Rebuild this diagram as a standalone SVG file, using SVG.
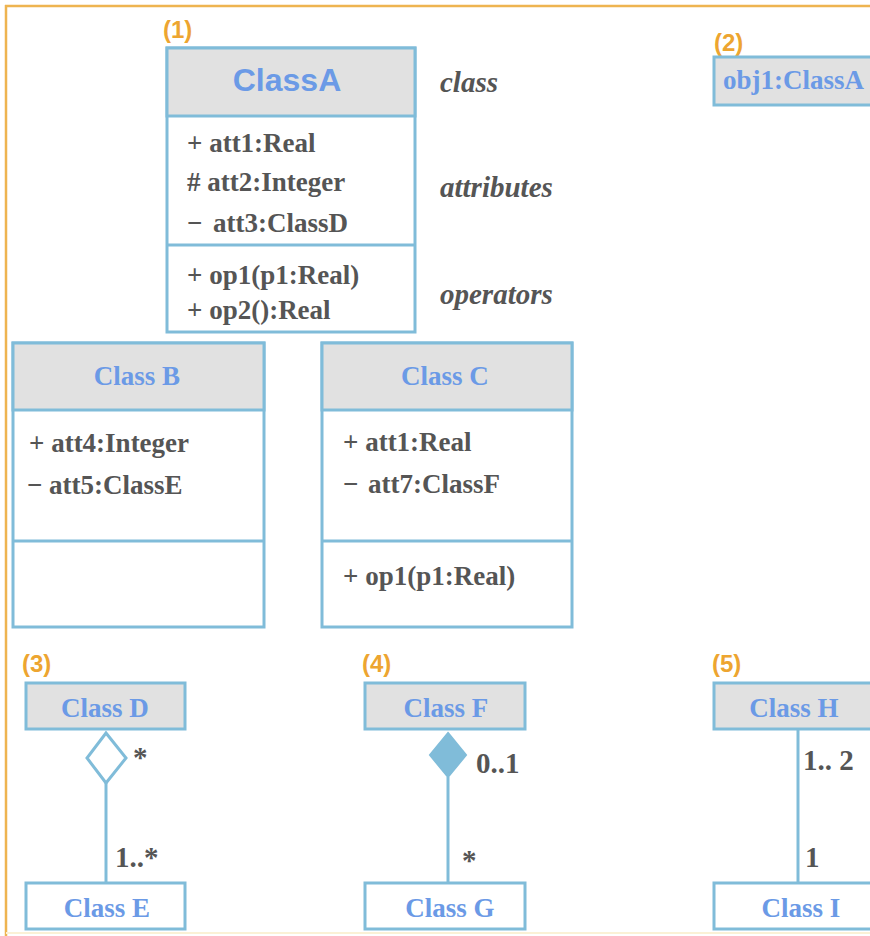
<svg xmlns="http://www.w3.org/2000/svg" width="870" height="936" viewBox="0 0 870 936">
<style>
.box{fill:#ffffff;stroke:#80bcd9;stroke-width:3}
.hdr{fill:#e1e1e1;stroke:#80bcd9;stroke-width:3}
.sep{stroke:#80bcd9;stroke-width:3}
.conn{stroke:#80bcd9;stroke-width:3;fill:none}
.title{font-family:"Liberation Sans",Arial,sans-serif;font-weight:bold;fill:#6b9ae6}
.name{font-family:"Liberation Serif","Times New Roman",serif;font-weight:bold;fill:#6b9ae6;font-size:27px}
.mem{font-family:"Liberation Serif","Times New Roman",serif;font-weight:bold;fill:#555555;font-size:27px}
.note{font-family:"Liberation Serif","Times New Roman",serif;font-weight:bold;font-style:italic;fill:#555555;font-size:29px}
.num{font-family:"Liberation Sans",Arial,sans-serif;font-weight:bold;fill:#eda530;font-size:24px}
.mult{font-family:"Liberation Serif","Times New Roman",serif;font-weight:bold;fill:#555555;font-size:29px}
</style>
<rect x="0" y="0" width="870" height="936" fill="#ffffff"/>
<g id="frame">
<line x1="5" y1="6" x2="870" y2="6" stroke="#eeb450" stroke-width="2.5"/>
<line x1="6" y1="5" x2="6" y2="936" stroke="#eeb450" stroke-width="2.5"/>
<line x1="6" y1="933" x2="870" y2="933" stroke="#fbf1d6" stroke-width="2"/>
</g>
<g id="labels">
<text class="num" x="163" y="38">(1)</text>
<text class="num" x="714" y="51">(2)</text>
<text class="num" x="22" y="672">(3)</text>
<text class="num" x="362" y="672">(4)</text>
<text class="num" x="712" y="672">(5)</text>
<text class="note" x="440" y="92">class</text>
<text class="note" x="440" y="197">attributes</text>
<text class="note" x="440" y="304">operators</text>
</g>
<g id="classA">
<rect class="box" x="167" y="48" width="248" height="284"/>
<rect class="hdr" x="167" y="48" width="248" height="68"/>
<line class="sep" x1="167" y1="245" x2="415" y2="245"/>
<text class="title" x="287" y="91" font-size="32" text-anchor="middle">ClassA</text>
<text class="mem" x="187" y="152">+ att1:Real</text>
<text class="mem" x="187" y="191"># att2:Integer</text>
<text class="mem" x="187" y="232">−<tspan x="213">att3:ClassD</tspan></text>
<text class="mem" x="187" y="284">+ op1(p1:Real)</text>
<text class="mem" x="187" y="319">+ op2():Real</text>
</g>
<g id="obj1">
<rect class="hdr" x="714" y="57" width="162" height="48"/>
<text class="name" x="723" y="89">obj1:ClassA</text>
</g>
<g id="classB">
<rect class="box" x="13" y="343" width="251" height="284"/>
<rect class="hdr" x="13" y="343" width="251" height="67"/>
<line class="sep" x1="13" y1="541" x2="264" y2="541"/>
<text class="name" x="137" y="385" text-anchor="middle">Class B</text>
<text class="mem" x="29" y="452">+ att4:Integer</text>
<text class="mem" x="27" y="494">−<tspan x="49">att5:ClassE</tspan></text>
</g>
<g id="classC">
<rect class="box" x="322" y="343" width="250" height="284"/>
<rect class="hdr" x="322" y="343" width="250" height="67"/>
<line class="sep" x1="322" y1="541" x2="572" y2="541"/>
<text class="name" x="445" y="385" text-anchor="middle">Class C</text>
<text class="mem" x="343" y="451">+ att1:Real</text>
<text class="mem" x="343" y="493">−<tspan x="368">att7:ClassF</tspan></text>
<text class="mem" x="343" y="585">+ op1(p1:Real)</text>
</g>
<g id="classD">
<rect class="hdr" x="26" y="683" width="159" height="46"/>
<text class="name" x="105" y="717" text-anchor="middle">Class D</text>
</g>
<g id="classE">
<rect class="box" x="26" y="883" width="159" height="46"/>
<text class="name" x="107" y="917" text-anchor="middle">Class E</text>
</g>
<g id="classF">
<rect class="hdr" x="365" y="683" width="160" height="46"/>
<text class="name" x="446" y="717" text-anchor="middle">Class F</text>
</g>
<g id="classG">
<rect class="box" x="365" y="883" width="160" height="46"/>
<text class="name" x="450" y="917" text-anchor="middle">Class G</text>
</g>
<g id="classH">
<rect class="hdr" x="714" y="683" width="162" height="46"/>
<text class="name" x="794" y="717" text-anchor="middle">Class H</text>
</g>
<g id="classI">
<rect class="box" x="714" y="883" width="162" height="46"/>
<text class="name" x="801" y="917" text-anchor="middle">Class I</text>
</g>
<g id="connectors">
<polygon class="conn" points="106,733 126,758 106,783 87,758"/>
<line class="conn" x1="106" y1="783" x2="106" y2="883"/>
<polygon points="448,733 466,755 448,777 430,755" fill="#80bcd9" stroke="#80bcd9" stroke-width="2"/>
<line class="conn" x1="448" y1="777" x2="448" y2="883"/>
<line class="conn" x1="798" y1="729" x2="798" y2="883"/>
<text class="mult" x="133" y="767" font-size="22">*</text>
<text class="mult" x="115" y="867">1..*</text>
<text class="mult" x="476" y="773">0..1</text>
<text class="mult" x="462" y="870" font-size="22">*</text>
<text class="mult" x="803" y="770">1.. 2</text>
<text class="mult" x="805" y="867">1</text>
</g>
</svg>
